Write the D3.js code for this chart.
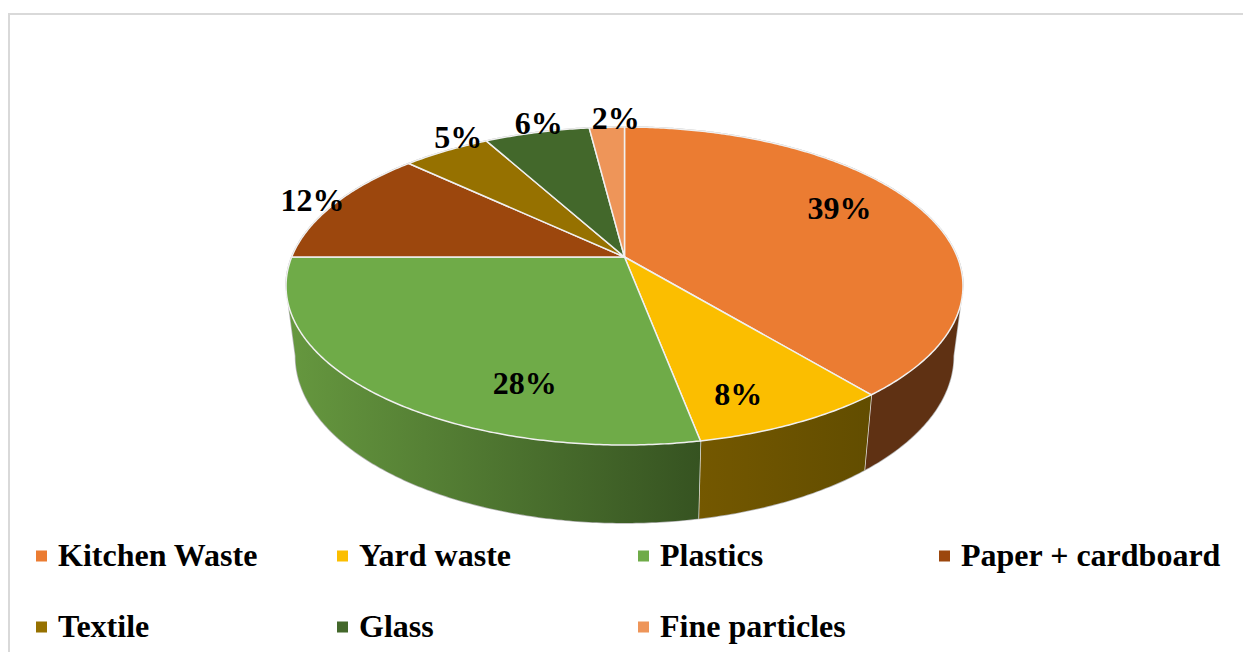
<!DOCTYPE html>
<meta charset="utf-8">
<style>
html, body { margin: 0; padding: 0; background: #fff; overflow: hidden; }
text { font-family: "Liberation Serif", serif; font-weight: bold; fill: #000; }
.label { font-size: 32px; text-anchor: middle; }
.legend { font-size: 32px; }
</style>
<body>
<script src="https://d3js.org/d3.v7.min.js"></script>
<script>

var categories = ["Kitchen Waste", "Yard waste", "Plastics", "Paper + cardboard", "Textile", "Glass", "Fine particles"];
var values = [39, 8, 28, 12, 5, 6, 2];
var colors = ["#EB7C32", "#FBBE00", "#6FAB48", "#9C470D", "#967100", "#43682B", "#EE9559"];

// side wall shades, left to right
var sideLeft = ["#5f3113", "#745800", "#66983f"];
var sideRight = ["#5f3113", "#624d00", "#365321"];

// label placement relative to the rim point at each slice's middle
var labelNudge = [[-80, 0], [-56, -30], [147, -12], [-22, -4], [12, -14], [2, -10], [9, -9]];

var width = 1243, height = 652;

// tilted disc: the pie centre sits above the middle of the ellipse
var apex = {x: 624.5, y: 257};
var persp = -0.1824, xScale = 332.8, yScale = 153.7;
var ellipseMidY = 286;
var floor = {sx: 0.972, sy: 1.05, y: 356};

function topRim(angle) {
  var u = Math.sin(angle), v = -Math.cos(angle), d = 1 + persp * v;
  return [apex.x + xScale * u / d, apex.y + yScale * v / d];
}
function floorRim(angle) {
  var p = topRim(angle);
  return [apex.x + floor.sx * (p[0] - apex.x), floor.y + floor.sy * (p[1] - ellipseMidY)];
}
function steps(a0, a1) {
  var n = Math.max(2, Math.ceil(Math.abs(a1 - a0) / 0.01));
  return d3.range(n + 1).map(function(i) { return a0 + (a1 - a0) * i / n; });
}

var line = d3.line();

var svg = d3.select("body").append("svg")
    .attr("width", width)
    .attr("height", height)
    .style("display", "block");

var defs = svg.append("defs");

// chart frame, open on the right and at the bottom
svg.append("path")
    .attr("d", "M9,652V14H1243")
    .attr("fill", "none")
    .attr("stroke", "#d9d9d9")
    .attr("stroke-width", 2);

var slices = d3.pie().sort(null).value(function(d) { return d; })(values);

// wall only runs along the front of the disc
var wallStart = Math.acos(persp);
var wallEnd = 2 * Math.PI - wallStart;

// soft outline round the whole solid
var hull = steps(0, wallStart).map(topRim)
    .concat(steps(wallStart, wallEnd).map(floorRim))
    .concat(steps(wallEnd, 2 * Math.PI).map(topRim));
svg.append("path")
    .attr("d", line(hull) + "Z")
    .attr("fill", "#fff")
    .attr("stroke", "#b5b5b5")
    .attr("stroke-width", 1.5);

slices.forEach(function(s, i) {
  var a0 = Math.max(s.startAngle, wallStart), a1 = Math.min(s.endAngle, wallEnd);
  if (a1 <= a0) return;
  var up = steps(a0, a1).map(topRim), down = steps(a1, a0).map(floorRim);
  var xs = d3.extent(up.concat(down), function(p) { return p[0]; });

  var grad = defs.append("linearGradient")
      .attr("id", "side" + i)
      .attr("gradientUnits", "userSpaceOnUse")
      .attr("x1", xs[0]).attr("x2", xs[1])
      .attr("y1", 0).attr("y2", 0);
  grad.append("stop").attr("offset", 0).attr("stop-color", sideLeft[i]);
  grad.append("stop").attr("offset", 1).attr("stop-color", sideRight[i]);

  svg.append("path")
      .attr("d", line(up.concat(down)) + "Z")
      .attr("fill", "url(#side" + i + ")");

  // seam at the slice edge, where it is on the front
  if (s.endAngle < wallEnd) {
    svg.append("path")
        .attr("d", line([topRim(s.endAngle), floorRim(s.endAngle)]))
        .attr("stroke", "#e6e6e6")
        .attr("stroke-width", 1.5);
  }
});

// top faces
slices.forEach(function(s, i) {
  var rim = steps(s.startAngle, s.endAngle).map(topRim);
  svg.append("path")
      .attr("d", line([[apex.x, apex.y]].concat(rim)) + "Z")
      .attr("fill", colors[i])
      .attr("stroke", "#f0f0f0")
      .attr("stroke-width", 1.5)
      .attr("stroke-linejoin", "round");
});

// value labels
slices.forEach(function(s, i) {
  var p = topRim((s.startAngle + s.endAngle) / 2);
  svg.append("text")
      .attr("class", "label")
      .attr("x", p[0] + labelNudge[i][0])
      .attr("y", p[1] + labelNudge[i][1])
      .attr("dy", "0.35em")
      .text(s.value + "%");
});

// legend, four entries to a row
var legendX = d3.scaleBand().domain([0, 1, 2, 3]).range([36, 1240]);
var legendY = d3.scaleBand().domain([0, 1]).range([520, 662]);

var legend = svg.selectAll(".entry")
    .data(categories)
    .enter().append("g")
    .attr("class", "entry")
    .attr("transform", function(d, i) {
      return "translate(" + legendX(i % 4) + "," + (legendY(Math.floor(i / 4)) + legendY.bandwidth() / 2) + ")";
    });

legend.append("rect")
    .attr("y", -5)
    .attr("width", 11)
    .attr("height", 11)
    .attr("fill", function(d, i) { return colors[i]; });

legend.append("text")
    .attr("class", "legend")
    .attr("x", 22)
    .attr("dy", "0.32em")
    .text(function(d) { return d; });

</script>
</body>
